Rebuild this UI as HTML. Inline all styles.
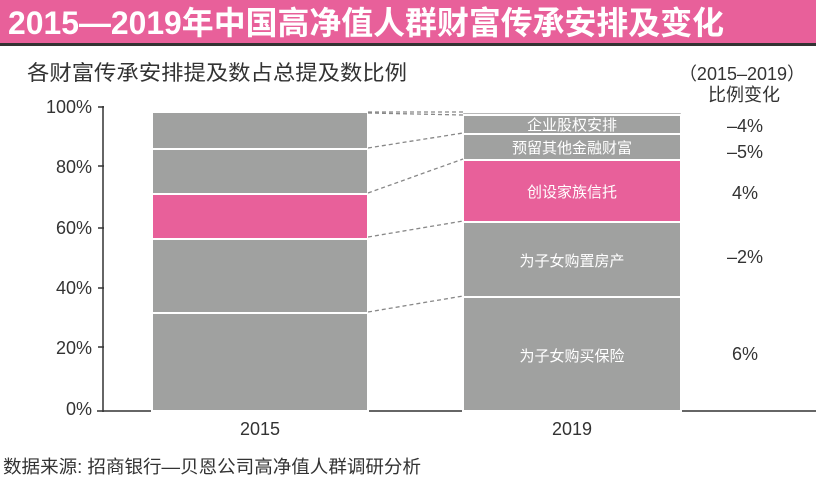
<!DOCTYPE html>
<html><head><meta charset="utf-8"><style>
body{margin:0;width:816px;height:488px;background:#fff;overflow:hidden;font-family:"Liberation Sans","Noto Sans CJK SC",sans-serif}
</style></head><body>
<svg width="816" height="488" xmlns="http://www.w3.org/2000/svg" style="position:absolute;left:0;top:0;font-family:'Liberation Sans','Noto Sans CJK SC',sans-serif">
<rect x="0" y="0" width="816" height="43" fill="#e8609a"/>
<rect x="0" y="43" width="816" height="3" fill="#333"/>
<text x="8" y="34" font-size="32" font-weight="bold" fill="#fff" textLength="716" lengthAdjust="spacingAndGlyphs">2015—2019年中国高净值人群财富传承安排及变化</text>
<text x="27" y="80" font-size="21" fill="#333" textLength="380" lengthAdjust="spacingAndGlyphs">各财富传承安排提及数占总提及数比例</text>
<text x="742" y="80" font-size="18" fill="#333" text-anchor="middle">（2015–2019）</text>
<text x="744" y="101" font-size="18" fill="#333" text-anchor="middle">比例变化</text>
<g font-size="18" fill="#333" text-anchor="end">
<text x="92" y="113">100%</text><text x="92" y="173">80%</text><text x="92" y="234">60%</text>
<text x="92" y="294">40%</text><text x="92" y="354">20%</text><text x="92" y="415">0%</text>
</g>
<line x1="103" y1="106" x2="103" y2="412" stroke="#333" stroke-width="1.5"/>
<line x1="97" y1="411" x2="816" y2="411" stroke="#333" stroke-width="1.5"/>
<g stroke="#333" stroke-width="1.5">
<line x1="98" y1="107" x2="104" y2="107"/><line x1="98" y1="166" x2="104" y2="166"/><line x1="98" y1="228" x2="104" y2="228"/><line x1="98" y1="288" x2="104" y2="288"/><line x1="98" y1="347" x2="104" y2="347"/>
</g>
<g stroke="#fff" stroke-width="2">
<rect x="152" y="112" width="216" height="37" fill="#a0a1a0"/>
<rect x="152" y="149" width="216" height="45" fill="#a0a1a0"/>
<rect x="152" y="194" width="216" height="45" fill="#e8609a"/>
<rect x="152" y="239" width="216" height="74" fill="#a0a1a0"/>
<rect x="152" y="313" width="216" height="98" fill="#a0a1a0"/>
<rect x="463" y="113" width="218" height="2" fill="#a0a1a0" stroke-width="0.5"/>
<rect x="463" y="115" width="218" height="19" fill="#a0a1a0"/>
<rect x="463" y="134" width="218" height="26" fill="#a0a1a0"/>
<rect x="463" y="160" width="218" height="62" fill="#e8609a"/>
<rect x="463" y="222" width="218" height="75" fill="#a0a1a0"/>
<rect x="463" y="297" width="218" height="114" fill="#a0a1a0"/>
</g>
<g stroke="#888" stroke-width="1.3" stroke-dasharray="4,3">
<line x1="368" y1="112" x2="463" y2="112"/><line x1="368" y1="113" x2="463" y2="115"/>
<line x1="368" y1="148" x2="463" y2="133"/>
<line x1="368" y1="193" x2="463" y2="159"/>
<line x1="368" y1="237" x2="463" y2="221"/>
<line x1="368" y1="312" x2="463" y2="296"/>
</g>
<g font-size="15" fill="#fff" text-anchor="middle">
<text x="572" y="130">企业股权安排</text>
<text x="572" y="153">预留其他金融财富</text>
<text x="572" y="197">创设家族信托</text>
<text x="572" y="266">为子女购置房产</text>
<text x="572" y="361">为子女购买保险</text>
</g>
<g font-size="18" fill="#333" text-anchor="middle">
<text x="745" y="132">–4%</text><text x="745" y="158">–5%</text><text x="745" y="199">4%</text>
<text x="745" y="263">–2%</text><text x="745" y="360">6%</text>
<text x="260" y="435">2015</text><text x="572" y="435">2019</text>
</g>
<text x="3" y="473" font-size="18" fill="#333" textLength="418" lengthAdjust="spacingAndGlyphs">数据来源: 招商银行—贝恩公司高净值人群调研分析</text>
</svg>
</body></html>
